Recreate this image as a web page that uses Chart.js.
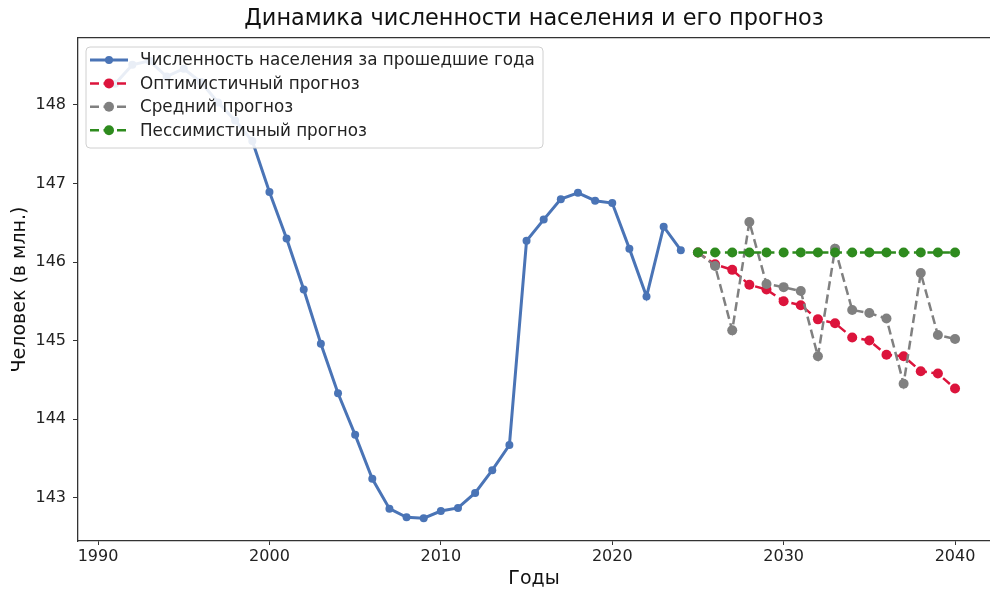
<!DOCTYPE html>
<html>
<head>
<meta charset="utf-8">
<script src="https://cdn.jsdelivr.net/npm/chart.js@4"></script>
<style>
html,body{margin:0;padding:0;background:#fff;overflow:hidden;}
</style>
</head>
<body>
<canvas id="chart" width="990" height="589"></canvas>
<script>
// history (Jan 1 population, mln)
const histYears=[1991,1992,1993,1994,1995,1996,1997,1998,1999,2000,2001,2002,2003,2004,2005,2006,2007,2008,2009,2010,2011,2012,2013,2014,2015,2016,2017,2018,2019,2020,2021,2022,2023,2024];
const histValues=[148.27,148.51,148.56,148.36,148.46,148.29,148.03,147.80,147.54,146.89,146.30,145.65,144.96,144.33,143.80,143.24,142.86,142.75,142.74,142.83,142.87,143.06,143.35,143.67,146.27,146.54,146.80,146.88,146.78,146.75,146.17,145.56,146.45,146.15];

// forecasts
const fcYears=[2025,2026,2027,2028,2029,2030,2031,2032,2033,2034,2035,2036,2037,2038,2039,2040];
const optimistic=[146.12,145.97,145.90,145.71,145.65,145.50,145.45,145.27,145.22,145.04,145.00,144.82,144.80,144.61,144.58,144.39];
const middle=[146.12,145.95,145.13,146.51,145.72,145.68,145.63,144.80,146.17,145.39,145.35,145.28,144.45,145.86,145.07,145.02];
const pessimistic=[146.12,146.12,146.12,146.12,146.12,146.12,146.12,146.12,146.12,146.12,146.12,146.12,146.12,146.12,146.12,146.12];

const xTicks=[1990,2000,2010,2020,2030,2040];
const yTicks=[143,144,145,146,147,148];

const FONT="'DejaVu Sans', sans-serif";
const X_MIN=1988.83, X_MAX=2042.04;

function pts(xs,ys){ return xs.map((x,i)=>({x:x,y:ys[i]})); }

function fcSet(label,values,color,order){
  return {label:label,data:pts(fcYears,values),borderColor:color,backgroundColor:color,
    pointBackgroundColor:color,pointBorderColor:color,pointBorderWidth:0,borderWidth:2.5,borderDash:[9,4.5],
    pointRadius:5,pointHoverRadius:5,tension:0,order:order};
}

// legend box drawn inside the plot, on top of the lines
const boxLegend={
  id:'boxLegend',
  afterDatasetsDraw(chart){
    const ctx=chart.ctx;
    const x0=86,y0=47,w=457,h=101;
    ctx.save();
    ctx.fillStyle='rgba(255,255,255,0.88)';
    ctx.strokeStyle='#d0d0d0';
    ctx.lineWidth=1;
    ctx.beginPath();
    ctx.roundRect(x0,y0,w,h,4);
    ctx.fill();
    ctx.stroke();
    ctx.font="16.8px "+FONT;
    ctx.textBaseline='middle';
    chart.data.datasets.forEach((ds,i)=>{
      const y=60+i*23.4;
      ctx.strokeStyle=ds.borderColor;
      ctx.lineWidth=ds.borderWidth;
      ctx.setLineDash(ds.borderDash||[]);
      ctx.beginPath();ctx.moveTo(90,y);ctx.lineTo(128,y);ctx.stroke();
      ctx.setLineDash([]);
      ctx.fillStyle=ds.borderColor;
      ctx.beginPath();ctx.arc(109,y,ds.pointRadius,0,Math.PI*2);ctx.fill();
      ctx.fillStyle='#222';
      ctx.fillText(ds.label,140,y+1);
    });
    ctx.restore();
  }
};

new Chart(document.getElementById('chart').getContext('2d'),{
  type:'line',
  data:{datasets:[
    {label:'Численность населения за прошедшие года',data:pts(histYears,histValues),
     borderColor:'#4a74b6',backgroundColor:'#4a74b6',pointBackgroundColor:'#4a74b6',pointBorderColor:'#4a74b6',pointBorderWidth:0,
     borderWidth:3,pointRadius:4,pointHoverRadius:4,tension:0,order:4},
    fcSet('Оптимистичный прогноз',optimistic,'#dc143c',3),
    fcSet('Средний прогноз',middle,'#808080',2),
    fcSet('Пессимистичный прогноз',pessimistic,'#2e8b1e',1)
  ]},
  options:{
    responsive:false,
    animation:false,
    events:[],
    layout:{padding:0,autoPadding:false},
    plugins:{legend:{display:false},tooltip:{enabled:false},title:{display:false}},
    scales:{
      x:{type:'linear',position:'bottom',min:X_MIN,max:X_MAX,
        afterBuildTicks:s=>{s.ticks=xTicks.map(v=>({value:v}));},
        afterFit:s=>{s.height=48;s.paddingLeft=0;s.paddingRight=0;},
        ticks:{font:{family:FONT,size:16},color:'#222',padding:2,maxRotation:0,callback:v=>String(v)},
        grid:{drawOnChartArea:false,tickLength:4,color:'#333'},
        border:{color:'#333',width:1.3},
        title:{display:true,text:'Годы',font:{family:FONT,size:19,lineHeight:1},color:'#111',padding:{top:0,bottom:0}}
      },
      x2:{type:'linear',position:'top',min:X_MIN,max:X_MAX,
        afterFit:s=>{s.height=38;s.paddingLeft=0;s.paddingRight=0;},
        ticks:{display:false},
        grid:{drawOnChartArea:false,drawTicks:false},
        border:{color:'#333',width:1.3},
        title:{display:true,text:'Динамика численности населения и его прогноз',font:{family:FONT,size:22.4},color:'#111',padding:{top:6,bottom:0}}
      },
      y:{type:'linear',position:'left',min:142.449,max:148.851,
        afterBuildTicks:s=>{s.ticks=yTicks.map(v=>({value:v}));},
        afterFit:s=>{s.width=78;},
        ticks:{font:{family:FONT,size:16},color:'#222',padding:7,callback:v=>String(v)},
        grid:{drawOnChartArea:false,tickLength:5,color:'#333'},
        border:{color:'#333',width:1.3},
        title:{display:true,text:'Человек (в млн.)',font:{family:FONT,size:19},color:'#111',padding:{top:9,bottom:0}}
      }
    }
  },
  plugins:[boxLegend]
});
</script>
</body>
</html>
